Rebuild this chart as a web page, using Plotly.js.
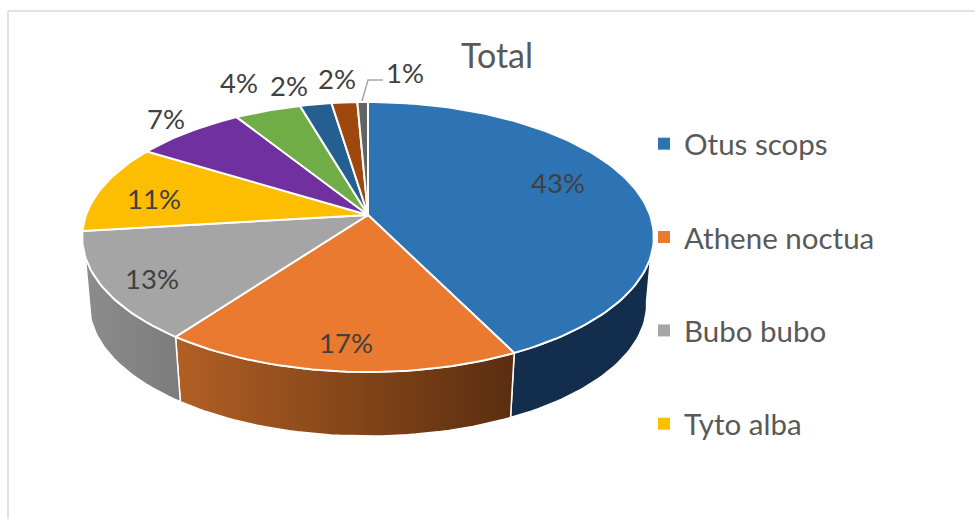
<!DOCTYPE html>
<html>
<head>
<meta charset="utf-8">
<script src="https://cdn.plot.ly/plotly-3.0.1.min.js"></script>
<style>html,body{margin:0;padding:0;background:#fff}#chart{width:975px;height:519px}</style>
</head>
<body>
<div id="chart"></div>
<script>
// Data
const species = ["Otus scops","Athene noctua","Bubo bubo","Tyto alba","Series 5","Series 6","Series 7","Series 8","Series 9"];
const shares = [42.7,17.4,13.0,10.7,7.3,4.4,2.1,1.7,0.7];
const topColors = ["#2e74b5","#e97a30","#a5a5a5","#fdbd00","#7030a0","#70ad47","#255e91","#9e480e","#636363"];
const wallLeft = ["#132e4c","#b25f24","#8c8c8c","#fdbd00","#7030a0","#70ad47","#255e91","#9e480e","#636363"];
const wallRight = ["#132e4c","#5a2e10","#7c7c7c","#fdbd00","#7030a0","#70ad47","#255e91","#9e480e","#636363"];
const legendCount = 4;
const labelX = [558,346,152,154,166,239,289,337,405];
const labelY = [182,342,278,198,118,82,85,78,72];

// Projection of the tilted disc
const CX=368, CY=215, RX=282, RY=131.4, K=0.163, SHRINK=0.975, DROP=68;
function rim(deg, level){
  const t=deg*Math.PI/180, u=Math.sin(t), v=-Math.cos(t), d=1-K*v;
  const s=level?SHRINK:1;
  return [CX+RX*u/d*s, CY+RY*v/d*s+(level?DROP:0)];
}
function arc(a,b,level){
  const n=Math.max(2,Math.ceil(Math.abs(b-a)/1.5)), pts=[];
  for(let i=0;i<=n;i++) pts.push(rim(a+(b-a)*i/n,level));
  return pts;
}
const traces=[];
let cum=0;
const spans=shares.map(s=>{const a=cum;cum+=s;return [a*3.6,cum*3.6];});

// side walls (front part only): the wall meets the upper rim later than the lower rim
const TOP_A=107.7, TOP_B=252.3, LOW_A=98, LOW_B=262;
spans.forEach((sp,i)=>{
  if(sp[1]<=LOW_A || sp[0]>=LOW_B) return;
  const pts=arc(Math.max(sp[0],TOP_A),Math.min(sp[1],TOP_B),0)
    .concat(arc(Math.min(sp[1],LOW_B),Math.max(sp[0],LOW_A),1));
  pts.push(pts[0]);
  const xs=pts.map(p=>p[0]), ys=pts.map(p=>p[1]);
  traces.push({type:"scatter",mode:"lines",x:xs,y:ys,fill:"toself",
    fillgradient:{type:"horizontal",start:Math.min(...xs),stop:Math.max(...xs),
      colorscale:[[0,wallLeft[i]],[1,wallRight[i]]]},
    line:{color:"#ffffff",width:1.5},showlegend:false,hoverinfo:"skip"});
});
// top face
spans.forEach((sp,i)=>{
  const pts=[[CX,CY]].concat(arc(sp[0],sp[1],0)); pts.push([CX,CY]);
  traces.push({type:"scatter",mode:"lines",x:pts.map(p=>p[0]),y:pts.map(p=>p[1]),
    fill:"toself",fillcolor:topColors[i],line:{color:"#ffffff",width:2},
    name:species[i],showlegend:false,hoverinfo:"name"});
});
// leader line for the smallest slice
traces.push({type:"scatter",mode:"lines",x:[362,368,383],y:[101,80,80],
  line:{color:"#a6a6a6",width:1.5},showlegend:false,hoverinfo:"skip"});
// legend entries
species.slice(0,legendCount).forEach((nm,i)=>{
  traces.push({type:"scatter",mode:"markers",x:[null],y:[null],name:nm,legendgroup:nm,
    marker:{symbol:"square",size:12,color:topColors[i]},showlegend:true});
});

const annotations=shares.map((s,i)=>({
  x:labelX[i],y:labelY[i],xref:"x",yref:"y",text:Math.round(s)+"%",showarrow:false,
  xanchor:"center",yanchor:"middle",font:{family:"Lato, sans-serif",size:27.5,color:"#404040"}
}));

const layout={
  width:975,height:519,margin:{l:0,r:0,t:0,b:0},
  paper_bgcolor:"#ffffff",plot_bgcolor:"#ffffff",
  title:{text:"Total",x:497/975,xanchor:"center",y:1-56/519,yanchor:"middle",
    font:{family:"Lato, sans-serif",size:34,color:"#595959"}},
  xaxis:{range:[0,975],visible:false,fixedrange:true},
  yaxis:{range:[519,0],visible:false,fixedrange:true},
  showlegend:true,
  legend:{x:644/975,y:1-118/519,xanchor:"left",yanchor:"top",bgcolor:"rgba(0,0,0,0)",
    font:{family:"Lato, sans-serif",size:29.5,color:"#595959"},
    tracegroupgap:52,itemwidth:30,traceorder:"grouped"},
  annotations:annotations,
  shapes:[
    {type:"line",xref:"x",yref:"y",x0:8,x1:975,y0:11,y1:11,line:{color:"#d9d9d9",width:1.5},layer:"below"},
    {type:"line",xref:"x",yref:"y",x0:8,x1:8,y0:11,y1:519,line:{color:"#d9d9d9",width:1.5},layer:"below"}
  ]
};
Plotly.newPlot("chart",traces,layout,{displayModeBar:false,staticPlot:true});
</script>
</body>
</html>
